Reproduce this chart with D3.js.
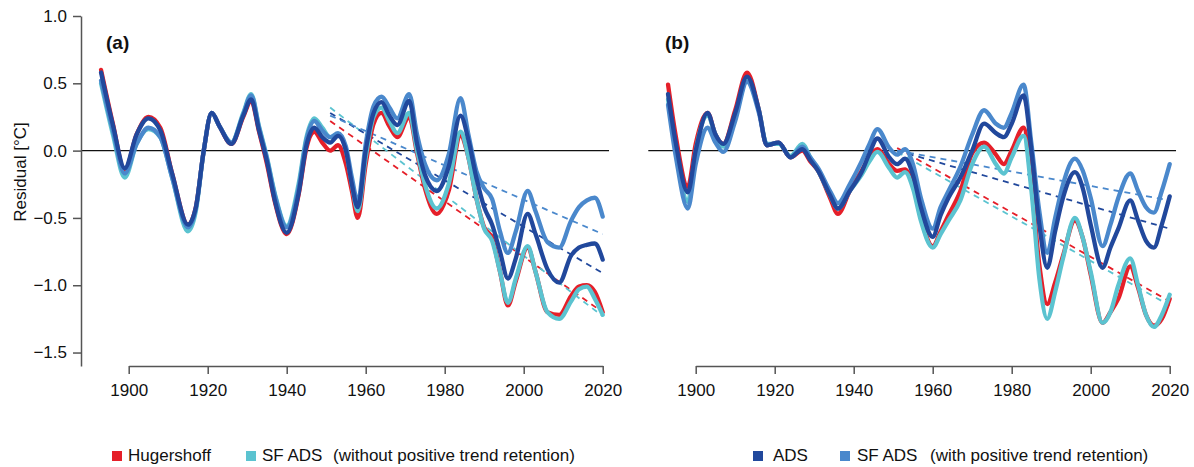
<!DOCTYPE html>
<html><head><meta charset="utf-8">
<script src="https://cdn.jsdelivr.net/npm/d3@7/dist/d3.min.js"></script>
<style>
body{margin:0;background:#fff;}
svg{display:block;font-family:"Liberation Sans",Arial,sans-serif;}
</style></head>
<body><svg id="chart" width="1194" height="467"></svg>
<script>
// ---------- DATA ----------
const yearsA = [1893,1896,1899,1902,1905,1908,1911,1915,1917,1919,1921,1923,1926,1929,1931,1933,1935,1937,1940,1943,1945,1947,1949,1951,1953,1955,1956.5,1958,1960,1962,1964,1966,1968,1971,1973,1975,1978,1981,1984,1986,1988,1990,1992,1994,1996,1998,2001,2003,2006,2009,2012,2014,2016,2018,2020];
const hugA   = [0.6,0.2,-0.15,0.12,0.25,0.17,-0.17,-0.55,-0.42,0.0,0.28,0.18,0.05,0.25,0.37,0.14,-0.1,-0.38,-0.62,-0.33,0.02,0.14,0.06,0.0,0.04,-0.1,-0.3,-0.5,-0.1,0.2,0.28,0.18,0.1,0.25,-0.02,-0.28,-0.47,-0.3,0.11,-0.05,-0.35,-0.57,-0.65,-0.9,-1.15,-0.97,-0.72,-0.9,-1.2,-1.22,-1.08,-1.01,-1.0,-1.05,-1.2];
const sfNoA  = [0.5,0.12,-0.2,0.05,0.16,0.1,-0.2,-0.6,-0.45,0.0,0.28,0.18,0.06,0.28,0.42,0.18,-0.05,-0.32,-0.56,-0.25,0.1,0.24,0.17,0.1,0.12,0.0,-0.25,-0.45,-0.05,0.25,0.32,0.22,0.13,0.28,0.0,-0.25,-0.43,-0.25,0.14,-0.05,-0.35,-0.58,-0.67,-0.9,-1.13,-0.95,-0.71,-0.9,-1.2,-1.25,-1.12,-1.03,-1.01,-1.1,-1.22];
const adsA   = [0.58,0.19,-0.13,0.12,0.24,0.15,-0.17,-0.55,-0.42,0.0,0.28,0.18,0.05,0.26,0.38,0.15,-0.08,-0.37,-0.61,-0.32,0.04,0.17,0.1,0.06,0.11,0.0,-0.25,-0.42,0.0,0.28,0.36,0.26,0.19,0.37,0.05,-0.18,-0.3,-0.12,0.26,0.08,-0.2,-0.42,-0.55,-0.75,-0.95,-0.8,-0.47,-0.62,-0.88,-0.98,-0.78,-0.72,-0.7,-0.69,-0.81];
const sfPosA = [0.52,0.15,-0.17,0.05,0.17,0.1,-0.2,-0.57,-0.43,0.0,0.28,0.18,0.06,0.27,0.41,0.17,-0.06,-0.33,-0.57,-0.28,0.08,0.22,0.15,0.1,0.13,0.03,-0.2,-0.38,0.05,0.33,0.4,0.32,0.24,0.42,0.12,-0.1,-0.22,-0.03,0.39,0.12,-0.15,-0.28,-0.36,-0.6,-0.76,-0.6,-0.3,-0.45,-0.68,-0.72,-0.52,-0.42,-0.37,-0.35,-0.49];

const yearsB = [1893,1895,1898,1900,1903,1905,1907,1910,1913,1916,1918,1921,1924,1927,1929,1931,1934,1936,1939,1942,1944,1946,1949,1951,1953,1955,1957,1960,1962,1964,1967,1970,1973,1976,1978,1980,1983,1985,1987,1989,1991,1993,1996,1998,2000,2003,2005,2007,2010,2012,2014,2016,2018,2020];
const hugB   = [0.49,0.1,-0.27,0.05,0.28,0.12,0.05,0.3,0.58,0.3,0.04,0.06,-0.05,0.0,-0.08,-0.15,-0.35,-0.47,-0.3,-0.15,-0.05,0.01,-0.1,-0.15,-0.14,-0.25,-0.5,-0.71,-0.6,-0.48,-0.3,-0.02,0.06,-0.03,-0.1,0.0,0.17,-0.25,-0.85,-1.14,-0.98,-0.78,-0.52,-0.65,-0.92,-1.28,-1.2,-1.1,-0.86,-1.02,-1.22,-1.3,-1.25,-1.1];
const sfNoB  = [0.38,0.0,-0.38,0.0,0.26,0.12,0.03,0.25,0.52,0.3,0.05,0.05,-0.04,0.05,-0.05,-0.15,-0.33,-0.43,-0.3,-0.18,-0.08,-0.01,-0.13,-0.2,-0.16,-0.28,-0.52,-0.72,-0.62,-0.52,-0.37,-0.1,0.03,-0.1,-0.17,-0.05,0.11,-0.3,-0.95,-1.25,-1.05,-0.8,-0.5,-0.65,-0.9,-1.28,-1.2,-1.0,-0.8,-1.0,-1.22,-1.31,-1.22,-1.07];
const adsB   = [0.42,0.05,-0.31,0.0,0.28,0.12,0.05,0.28,0.55,0.3,0.04,0.06,-0.05,0.01,-0.07,-0.15,-0.33,-0.43,-0.3,-0.16,-0.02,0.09,-0.05,-0.1,-0.06,-0.18,-0.42,-0.64,-0.48,-0.35,-0.2,0.0,0.2,0.13,0.1,0.2,0.41,0.0,-0.55,-0.87,-0.6,-0.35,-0.16,-0.28,-0.55,-0.87,-0.72,-0.58,-0.37,-0.52,-0.67,-0.72,-0.55,-0.34];
const sfPosB = [0.34,-0.05,-0.43,-0.1,0.17,0.06,-0.01,0.22,0.51,0.28,0.04,0.06,-0.05,0.03,-0.05,-0.13,-0.3,-0.39,-0.25,-0.08,0.05,0.16,0.02,-0.03,0.01,-0.1,-0.35,-0.58,-0.42,-0.3,-0.12,0.12,0.3,0.2,0.17,0.28,0.49,0.05,-0.45,-0.76,-0.5,-0.25,-0.06,-0.15,-0.35,-0.71,-0.55,-0.35,-0.17,-0.3,-0.42,-0.46,-0.3,-0.1];

// linear trends (start year, end year) and values at those years
const trendYears = [1951, 2020];
const trendA = {hug:[0.22,-1.2], sfNo:[0.32,-1.23], ads:[0.28,-0.91], sfPos:[0.26,-0.62]};
const trendB = {hug:[0.02,-1.12], sfNo:[-0.01,-1.15], ads:[0.0,-0.58], sfPos:[0.0,-0.37]};

const xTicks = [1900,1920,1940,1960,1980,2000,2020];
const yTicks = [-1.5,-1.0,-0.5,0.0,0.5,1.0];
const seriesKeys = ["hug","sfNo","sfPos","ads"];
const colors = {hug:"#e51f29", sfNo:"#5bc3d0", ads:"#21489c", sfPos:"#4a88cc"};
const legendLeft = [{key:"hug",label:"Hugershoff"},{key:"sfNo",label:"SF ADS"},{key:null,label:"(without positive trend retention)"}];
const legendRight = [{key:"ads",label:"ADS"},{key:"sfPos",label:"SF ADS"},{key:null,label:"(with positive trend retention)"}];

// ---------- DRAW ----------
const svg = d3.select("#chart");
const y = d3.scaleLinear().domain([-1.6, 1.0]).range([366, 16]);

const panels = [
  {id:"a", x: d3.scaleLinear().domain([1900,2020]).range([128.7,602.7]), years: yearsA,
   data:{hug:hugA, sfNo:sfNoA, ads:adsA, sfPos:sfPosA}, trend: trendA, showY:true, labelX:106},
  {id:"b", x: d3.scaleLinear().domain([1900,2020]).range([695.7,1169.7]), years: yearsB,
   data:{hug:hugB, sfNo:sfNoB, ads:adsB, sfPos:sfPosB}, trend: trendB, showY:false, labelX:665}
];

panels.forEach(p => {
  const g = svg.append("g");
  g.append("line").attr("x1", p.x(1888)).attr("x2", p.x(2021.6))
    .attr("y1", y(0)).attr("y2", y(0)).attr("stroke","#111").attr("stroke-width",1.4);

  ["hug","sfNo","ads","sfPos"].forEach(k => {
    const t = p.trend[k];
    g.append("line")
      .attr("x1", p.x(trendYears[0])).attr("y1", y(t[0]))
      .attr("x2", p.x(trendYears[1])).attr("y2", y(t[1]))
      .attr("stroke", colors[k]).attr("stroke-width",1.8)
      .attr("stroke-dasharray","6,5");
  });

  const line = d3.line().x(d => p.x(d[0])).y(d => y(d[1])).curve(d3.curveMonotoneX);
  seriesKeys.forEach(k => {
    const pts = p.years.map((yr,i) => [yr, p.data[k][i]]);
    g.append("path").attr("d", line(pts)).attr("fill","none")
      .attr("stroke", colors[k]).attr("stroke-width",4.3)
      .attr("stroke-linejoin","round").attr("stroke-linecap","round");
  });

  const xa = g.append("g").attr("transform",`translate(0,366)`)
    .call(d3.axisBottom(p.x).tickValues(xTicks).tickFormat(d3.format("d"))
      .tickSize(8).tickSizeOuter(0).tickPadding(10));
  xa.selectAll("path,line").attr("stroke","#555").attr("stroke-width",1.5);
  xa.selectAll("text").attr("font-size",17).attr("fill","#111")
    .attr("font-family",'"Liberation Sans",Arial,sans-serif');

  if (p.showY) {
    const ya = g.append("g").attr("transform",`translate(81,0)`)
      .call(d3.axisLeft(y).tickValues(yTicks).tickFormat(d3.format(".1f"))
        .tickSize(8).tickSizeOuter(0).tickPadding(6));
    ya.selectAll("path,line").attr("stroke","#555").attr("stroke-width",1.5);
    ya.selectAll("text").attr("font-size",17).attr("fill","#111")
      .attr("font-family",'"Liberation Sans",Arial,sans-serif');
    g.append("text").attr("transform","translate(20,172) rotate(-90)")
      .attr("text-anchor","middle").attr("dominant-baseline","central")
      .attr("font-size",17).attr("fill","#111").text("Residual [°C]");
  }

  g.append("text").attr("x", p.labelX).attr("y", 49)
    .attr("font-size",19).attr("font-weight","bold").attr("fill","#111")
    .text(`(${p.id})`);
});

function drawLegend(items, positions) {
  items.forEach((it, i) => {
    const pos = positions[i];
    if (it.key) {
      svg.append("rect").attr("x", pos.sq).attr("y", 451).attr("width",10).attr("height",10)
        .attr("fill", colors[it.key]);
    }
    svg.append("text").attr("x", pos.tx).attr("y", 461).attr("font-size",17)
      .attr("fill","#111").text(it.label);
  });
}
drawLegend(legendLeft, [{sq:112,tx:128},{sq:246,tx:262},{sq:null,tx:333}]);
drawLegend(legendRight, [{sq:753,tx:773},{sq:840,tx:857},{sq:null,tx:930}]);
</script></body></html>
